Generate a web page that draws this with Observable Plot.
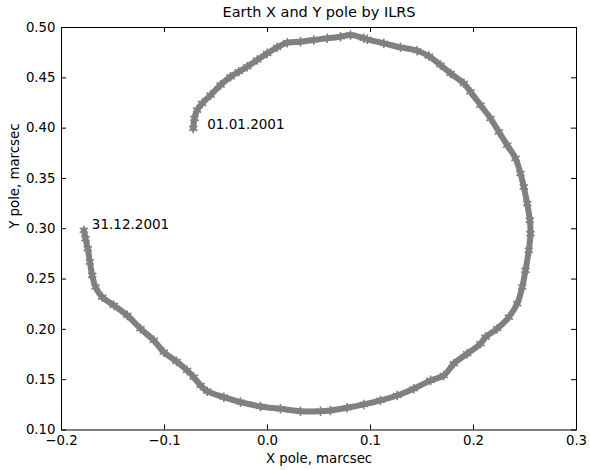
<!DOCTYPE html>
<html>
<head>
<meta charset="utf-8">
<script src="https://cdn.jsdelivr.net/npm/d3@7"></script>
<script src="https://cdn.jsdelivr.net/npm/@observablehq/plot@0.6"></script>
<style>
  html, body { margin: 0; padding: 0; background: #fff; overflow: hidden; }
  #chart svg { display: block; }
</style>
</head>
<body>
<div id="chart"></div>
<script>
// Pole coordinates (marcsec), traced along the curve from 01.01.2001 to 31.12.2001
const xPole = [
  -0.0721, -0.0709, -0.0683, -0.0634, -0.0553, -0.0456, -0.0359, -0.0279, -0.0197, -0.0100,
  -0.0003, 0.0094, 0.0191, 0.0320, 0.0450, 0.0580, 0.0709, 0.0806, 0.0935, 0.0968,
  0.1129, 0.1291, 0.1453, 0.1566, 0.1680, 0.1777, 0.1906, 0.1971, 0.2068, 0.2165,
  0.2246, 0.2327, 0.2408, 0.2456, 0.2488, 0.2521, 0.2547, 0.2553, 0.2537, 0.2505,
  0.2473, 0.2424, 0.2343, 0.2230, 0.2117, 0.2068, 0.1939, 0.1809, 0.1712, 0.1583,
  0.1420, 0.1259, 0.1097, 0.0935, 0.0774, 0.0612, 0.0515, 0.0320, 0.0126, -0.0068,
  -0.0262, -0.0424, -0.0585, -0.0650, -0.0716, -0.0780, -0.0883, -0.1007, -0.1104, -0.1233,
  -0.1362, -0.1492, -0.1605, -0.1670, -0.1702, -0.1725, -0.1745, -0.1767, -0.1783
];
const yPole = [
  0.3997, 0.4097, 0.4179, 0.4246, 0.4328, 0.4428, 0.4510, 0.4560, 0.4610, 0.4677,
  0.4743, 0.4803, 0.4849, 0.4859, 0.4876, 0.4893, 0.4908, 0.4925, 0.4893, 0.4883,
  0.4843, 0.4803, 0.4769, 0.4716, 0.4627, 0.4544, 0.4445, 0.4361, 0.4229, 0.4097,
  0.3963, 0.3831, 0.3699, 0.3549, 0.3416, 0.3251, 0.3085, 0.2952, 0.2786, 0.2587,
  0.2421, 0.2256, 0.2122, 0.2007, 0.1923, 0.1858, 0.1758, 0.1659, 0.1542, 0.1493,
  0.1410, 0.1343, 0.1294, 0.1254, 0.1221, 0.1194, 0.1187, 0.1187, 0.1211, 0.1234,
  0.1277, 0.1326, 0.1386, 0.1443, 0.1525, 0.1592, 0.1682, 0.1774, 0.1891, 0.2007,
  0.2139, 0.2239, 0.2321, 0.2421, 0.2537, 0.2670, 0.2803, 0.2902, 0.2985
];
const xTicks = [-0.2, -0.1, 0.0, 0.1, 0.2, 0.3];
const yTicks = [0.10, 0.15, 0.20, 0.25, 0.30, 0.35, 0.40, 0.45, 0.50];
const dateLabels = ["01.01.2001", "31.12.2001"];
const titleText = "Earth X and Y pole by ILRS";
const xLabelText = "X pole, marcsec";
const yLabelText = "Y pole, marcsec";

const data = xPole.map((x, i) => ({x, y: yPole[i]}));
const startPt = [{x: xPole[0], y: yPole[0], t: dateLabels[0]}];
const endPt = [{x: xPole[xPole.length - 1], y: yPole[yPole.length - 1], t: dateLabels[1]}];

const W = 590, H = 470;
const mt = 27, mb = 40.5, ml = 61, mr = 14;
const fw = W - ml - mr, fh = H - mt - mb;
const tick = 5;
const minus = v => (v < 0 ? "\u2212" : "");
const fx = v => minus(v) + Math.abs(v).toFixed(1);
const fy = v => minus(v) + Math.abs(v).toFixed(2);
const font = "DejaVu Sans, Verdana, sans-serif";

const chart = Plot.plot({
  width: W,
  height: H,
  marginTop: mt,
  marginBottom: mb,
  marginLeft: ml,
  marginRight: mr,
  style: {fontFamily: font, fontSize: "13.3px", background: "#fff", color: "#000", overflow: "visible"},
  x: {domain: [-0.2, 0.3]},
  y: {domain: [0.10, 0.50]},
  marks: [
    Plot.line(data, {x: "x", y: "y", stroke: "#808080", strokeWidth: 6, strokeLinejoin: "round", curve: "catmull-rom"}),
    Plot.dot(data, {x: "x", y: "y", symbol: "asterisk", r: 4.5, stroke: "#808080", strokeWidth: 1.6}),
    // inward ticks on all four sides
    Plot.ruleX(xTicks, {x: d => d, insetTop: fh - tick, stroke: "#000", strokeWidth: 1}),
    Plot.ruleX(xTicks, {x: d => d, insetBottom: fh - tick, stroke: "#000", strokeWidth: 1}),
    Plot.ruleY(yTicks, {y: d => d, insetRight: fw - tick, stroke: "#000", strokeWidth: 1}),
    Plot.ruleY(yTicks, {y: d => d, insetLeft: fw - tick, stroke: "#000", strokeWidth: 1}),
    Plot.frame({stroke: "#000", strokeWidth: 1}),
    Plot.axisX({ticks: xTicks, tickFormat: fx, tickSize: 0, tickPadding: 6, label: null, fontSize: 13.3}),
    Plot.axisY({ticks: yTicks, tickFormat: fy, tickSize: 0, tickPadding: 6, label: null, fontSize: 13.3}),
    Plot.text(startPt, {x: "x", y: "y", text: "t", dx: 14, dy: -4, textAnchor: "start", fontSize: 13.5, fill: "#000"}),
    Plot.text(endPt, {x: "x", y: "y", text: "t", dx: 8, dy: -6, textAnchor: "start", fontSize: 13.5, fill: "#000"}),
    Plot.text([titleText], {frameAnchor: "top", dy: -15, lineAnchor: "middle", fontSize: 14.5, fill: "#000"}),
    Plot.text([xLabelText], {frameAnchor: "bottom", dy: 29, lineAnchor: "middle", fontSize: 13.3, fill: "#000"}),
    Plot.text([yLabelText], {frameAnchor: "left", dx: -47, rotate: -90, lineAnchor: "middle", fontSize: 13.3, fill: "#000"})
  ]
});
document.getElementById("chart").appendChild(chart);
</script>
</body>
</html>
